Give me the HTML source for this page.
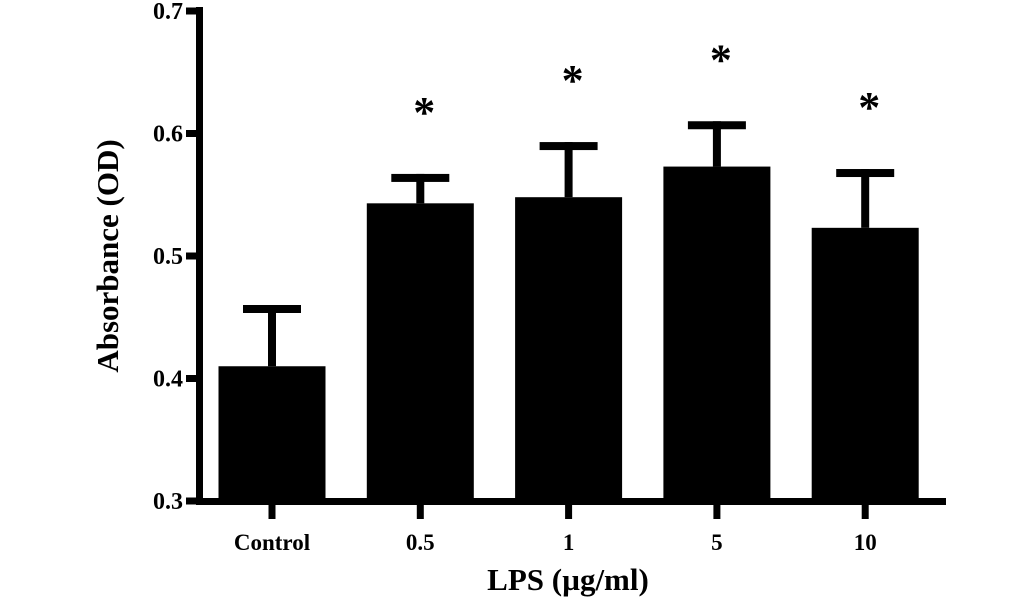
<!DOCTYPE html>
<html><head><meta charset="utf-8"><style>
html,body{margin:0;padding:0;background:#fff;}
svg{display:block;font-family:"Liberation Serif",serif;font-weight:bold;}
</style></head><body>
<svg id="chart" width="1033" height="601" viewBox="0 0 1033 601" xmlns="http://www.w3.org/2000/svg"></svg>
<script>
const categories = ["Control","0.5","1","5","10"];
const means = [0.41, 0.543, 0.548, 0.573, 0.523];
const errors = [0.05, 0.024, 0.045, 0.037, 0.048];
const significant = [false, true, true, true, true];
const yTicks = [0.3, 0.4, 0.5, 0.6, 0.7];

const svg = document.getElementById('chart');
const NS = "http://www.w3.org/2000/svg";
const yMin = 0.3, yMax = 0.7, yBottom = 501, yTop = 11;
const y = v => yBottom - (v - yMin) / (yMax - yMin) * (yBottom - yTop);
const x0 = 272, step = 148.3, barW = 107;
const x = i => x0 + i * step;
function mk(tag, attrs){const e=document.createElementNS(NS,tag);for(const k in attrs)e.setAttribute(k,attrs[k]);svg.appendChild(e);return e;}

categories.forEach((c,i)=>{
  const cx = x(i);
  const top = y(means[i] + errors[i]);
  const stem = mk('rect',{x:cx-4,y:top,width:8,height:y(means[i])-top,fill:'#000'});
  
  
  const cap = mk('rect',{x:cx-29,y:top,width:58,height:8,fill:'#000'});
  
  
  const bar = mk('rect',{x:cx-barW/2,y:y(means[i]),width:barW,height:yBottom-y(means[i]),fill:'#000'});
  
  
  const tk = mk('rect',{x:cx-3.5,y:yBottom,width:7,height:18,fill:'#000'});
  
  
  const lb = mk('text',{x:cx,y:550,'text-anchor':'middle','font-size':23});
  lb.textContent = c;
  
  
  if(significant[i]){
    const st = mk('text',{x:cx+4,y:top-47,'text-anchor':'middle','font-size':44});
    st.textContent='*';
    
    
  }
});
yTicks.forEach(v=>{
  const t = mk('rect',{x:186,y:y(v)-3.5,width:14,height:7,fill:'#000'});
  
  
  const l = mk('text',{x:183,y:y(v)+8,'text-anchor':'end','font-size':24});
  l.textContent = v.toFixed(1);
  
  
});
const ya = mk('rect',{x:196,y:7,width:7,height:498,fill:'#000'});


const xa = mk('rect',{x:196,y:498,width:750,height:7,fill:'#000'});


const yt = mk('text',{x:0,y:0,'text-anchor':'middle','font-size':31,transform:'translate(118,256) rotate(-90)'});
yt.textContent='Absorbance (OD)';


const xt = mk('text',{x:568,y:590,'text-anchor':'middle','font-size':31});
xt.textContent='LPS (µg/ml)';


</script>
</body></html>
